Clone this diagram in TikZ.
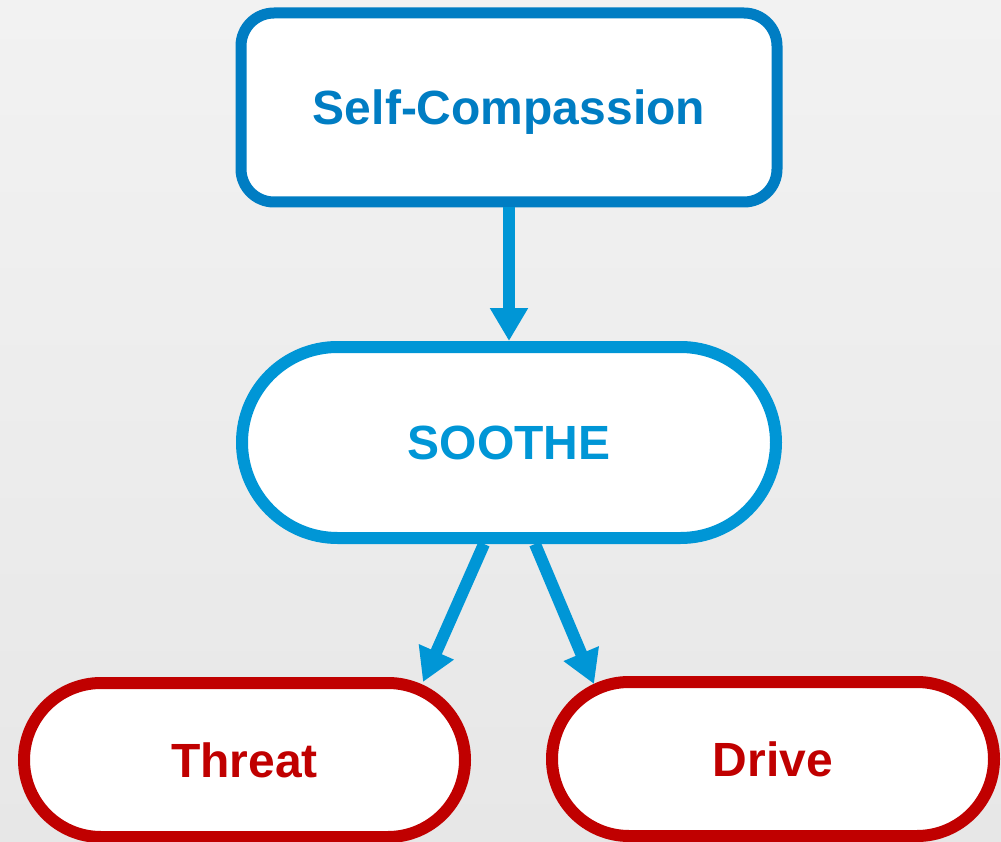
\documentclass[tikz,border=0pt]{standalone}
\usepackage{fontspec}
\setmainfont{Liberation Sans}
\usetikzlibrary{arrows.meta,shapes.misc}
\definecolor{scblue}{RGB}{0,125,195}
\definecolor{soblue}{RGB}{0,150,214}
\definecolor{dred}{RGB}{192,0,0}
\definecolor{bgtop}{RGB}{242,242,242}
\definecolor{bgbot}{RGB}{231,231,231}
\begin{document}
\begin{tikzpicture}[x=1pt,y=-1pt,
  box/.style={draw, fill=white, inner sep=0pt,
    font=\fontsize{48}{48}\selectfont\bfseries,
    text height=34.4pt, text depth=0pt, align=center},
  sqbox/.style={box, rectangle, rounded corners=33pt, draw=scblue, text=scblue, line width=11pt},
  pill/.style={box, rounded rectangle, line width=12pt},
  bluepill/.style={pill, draw=soblue, text=soblue},
  redpill/.style={pill, draw=dred, text=dred},
  arr/.style={draw=soblue, line width=12pt, -{Triangle[length=33pt,width=36pt]}}
]
\useasboundingbox (0,0) rectangle (1001,842);
\shade[top color=bgtop, bottom color=bgbot] (0,0) rectangle (1001,842);

\node[sqbox, minimum width=536pt, minimum height=189pt] (sc) at (509,107.5) {Self-Compassion};
\node[bluepill, minimum width=534pt, minimum height=191pt] (so) at (509,442.5) {SOOTHE};
\node[redpill, minimum width=441pt, minimum height=154pt] (th) at (244.5,760) {Threat};
\node[redpill, minimum width=442pt, minimum height=154pt] (dr) at (773,759) {Drive};

\draw[arr] (sc.south) -- (so.north);
\draw[arr] ([xshift=-25pt]so.south) -- ([xshift=178.5pt,yshift=-5pt]th.north);
\draw[arr] ([xshift=26pt]so.south) -- ([xshift=-179pt,yshift=-8pt]dr.north);
\end{tikzpicture}
\end{document}
